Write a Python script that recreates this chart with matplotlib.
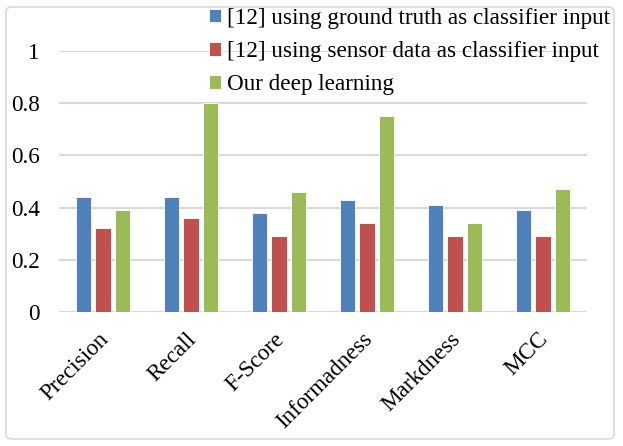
import matplotlib
matplotlib.use("Agg")
import matplotlib.pyplot as plt
import matplotlib.transforms as mtransforms
import numpy as np
from matplotlib.patches import FancyBboxPatch

categories = ["Precision", "Recall", "F-Score", "Informadness", "Markdness", "MCC"]
series_names = ["[12] using ground truth as classifier input",
                "[12] using sensor data as classifier input",
                "Our deep learning"]
ground_truth = [0.44, 0.44, 0.38, 0.43, 0.41, 0.39]
sensor_data = [0.32, 0.36, 0.29, 0.34, 0.29, 0.29]
deep_learning = [0.39, 0.80, 0.46, 0.75, 0.34, 0.47]
yticks = [0, 0.2, 0.4, 0.6, 0.8, 1]
ytick_labels = ["0", "0.2", "0.4", "0.6", "0.8", "1"]

colors = ["#4F81BD", "#C0504D", "#9BBB59"]

plt.rcParams['font.family'] = ['Liberation Serif', 'DejaVu Serif']
FS = 16.7

fig = plt.figure(figsize=(6.23, 4.46), dpi=100)
ax_left, ax_right, ax_top, ax_bot = 59, 587, 51, 312
ax = fig.add_axes([ax_left/623, 1 - ax_bot/446, (ax_right-ax_left)/623, (ax_bot-ax_top)/446])

x = np.arange(len(categories))
w = 0.176
off = 0.224
for i, (vals, c, name) in enumerate(zip([ground_truth, sensor_data, deep_learning], colors, series_names)):
    ax.bar(x + (i - 1) * off, vals, width=w, color=c, edgecolor='white', linewidth=0.6, label=name, zorder=3)

ax.set_xlim(-0.5, len(categories) - 0.5)
ax.set_ylim(0, 1.0)
ax.set_yticks(yticks)
ax.set_yticklabels(ytick_labels, fontsize=FS)
ax.yaxis.grid(True, color='#D9D9D9', linewidth=1.5, zorder=0)
ax.set_axisbelow(True)
ax.tick_params(axis='y', length=0, pad=14)
ax.tick_params(axis='x', length=0, pad=12)
ax.set_xticks(x)
ax.set_xticklabels(categories, fontsize=FS, rotation=45, ha='right', rotation_mode='anchor')
shift = mtransforms.ScaledTranslation(-5/100, 0, fig.dpi_scale_trans)
for lab in ax.get_xticklabels():
    lab.set_transform(lab.get_transform() + shift)
for s in ax.spines.values():
    s.set_visible(False)
ax.axhline(0, color='#D9D9D9', linewidth=1.5, zorder=1)

leg = ax.legend(loc='upper left', bbox_to_anchor=(0.284, 1.165), frameon=False, fontsize=FS,
                handlelength=0.52, handleheight=0.52, handletextpad=0.26, labelspacing=0.52,
                borderaxespad=0, borderpad=0)

border = FancyBboxPatch((6/623, 7/446), 608/623, 432/446, boxstyle="round,pad=0,rounding_size=0.01",
                        transform=fig.transFigure, fill=False, edgecolor='#D9D9D9', linewidth=1.2)
fig.patches.append(border)

fig.savefig("out.png", dpi=100)
